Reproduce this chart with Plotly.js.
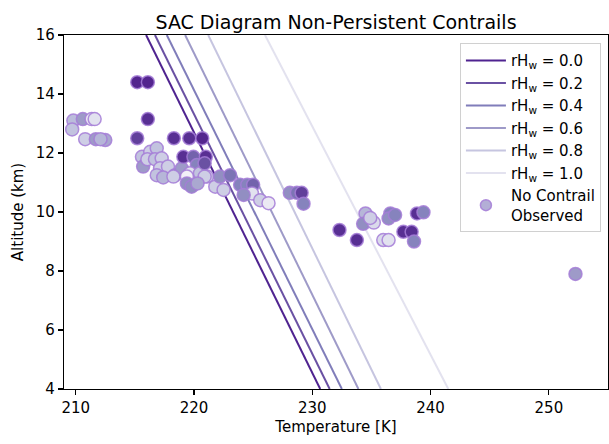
<!DOCTYPE html>
<html><head><meta charset="utf-8">
<script src="https://cdn.plot.ly/plotly-3.0.1.min.js"></script>
<style>html,body{margin:0;padding:0;background:#fff}#chart{width:609px;height:444px}</style>
</head><body><div id="chart"></div><script>
// SAC threshold lines: relative humidity levels and threshold temperatures (K) at 16 km and 4 km
const rhLevels = [0.0, 0.2, 0.4, 0.6, 0.8, 1.0];
const lineAlt = [16, 4];
const lineTempTop = [215.95, 216.7, 217.7, 219.25, 221.2, 226.0];
const lineTempBottom = [230.67, 231.47, 232.5, 233.9, 235.8, 241.5];

// Observations without contrails
const obsTemp = [215.2, 216.1, 216.1, 215.2, 218.3, 219.6, 220.7,
  209.8, 210.6, 211.35, 211.6, 209.7, 210.8, 211.7, 212.5, 212.1,
  215.6, 215.7, 216.3, 216.85, 216.06, 216.7, 217.27, 217.13, 217.8, 216.85, 217.4, 218.4, 218.97,
  219.1, 219.95, 221.0, 220.24, 219.67, 218.26, 219.4, 219.4, 221.1, 221.8, 222.2, 223.06, 222.5,
  223.9, 224.5, 225.0, 224.9, 224.2, 225.6, 226.3, 219.8, 220.5, 220.9, 220.3, 220.9,
  228.1, 228.7, 229.1, 229.26, 232.3, 233.77, 234.5, 234.3, 235.2, 234.9, 236.0, 236.45,
  236.6, 236.45, 237.0, 237.7, 238.4, 238.6, 238.85, 239.4, 252.25];
const obsAlt = [14.4, 14.4, 13.15, 12.5, 12.5, 12.5, 12.5,
  13.1, 13.15, 13.15, 13.15, 12.8, 12.47, 12.47, 12.44, 12.47,
  11.87, 11.54, 12.04, 12.16, 11.79, 11.79, 11.82, 11.48, 11.54, 11.25, 11.17, 11.25, 11.48,
  11.87, 11.87, 11.87, 11.59, 11.31, 11.2, 11.2, 10.97, 11.2, 10.86, 11.2, 11.25, 10.75,
  10.92, 10.92, 10.92, 10.63, 10.58, 10.4, 10.3, 10.86, 11.31, 11.2, 10.97, 11.65,
  10.65, 10.65, 10.65, 10.28, 9.39, 9.05, 9.95, 9.6, 9.64, 9.8, 9.05, 9.05,
  9.95, 9.78, 9.9, 9.33, 9.33, 9.0, 9.95, 9.99, 7.9];
const obsRh = [0.88, 0.88, 0.85, 0.8, 0.85, 0.85, 0.88,
  0.38, 0.5, 0.15, 0.2, 0.35, 0.3, 0.5, 0.45, 0.4,
  0.35, 0.5, 0.3, 0.35, 0.3, 0.35, 0.3, 0.3, 0.3, 0.35, 0.4, 0.5, 0.5,
  0.85, 0.7, 0.85, 0.6, 0.2, 0.3, 0.1, 0.55, 0.3, 0.3, 0.55, 0.65, 0.3,
  0.6, 0.6, 0.7, 0.2, 0.55, 0.3, 0.15, 0.55, 0.35, 0.3, 0.45, 0.75,
  0.55, 0.65, 0.8, 0.6, 0.85, 0.85, 0.4, 0.55, 0.25, 0.3, 0.25, 0.2,
  0.6, 0.55, 0.6, 0.85, 0.85, 0.6, 0.85, 0.6, 0.5];

const xTicks = [210, 220, 230, 240, 250];
const yTicks = [4, 6, 8, 10, 12, 14, 16];

const lineColors = ['#4f2390', '#6a51a3', '#807dba', '#9e9ac8', '#c6c5e0', '#e3e2ef'];
const purples = [[0, '#fcfbfd'], [0.125, '#efedf5'], [0.25, '#dadaeb'], [0.375, '#bcbddc'],
  [0.5, '#9e9ac8'], [0.625, '#807dba'], [0.75, '#6a51a3'], [0.875, '#54278f'], [1, '#3f007d']];

const traces = [];
rhLevels.forEach((rh, i) => {
  traces.push({
    type: 'scatter', mode: 'lines',
    x: [lineTempTop[i], lineTempBottom[i]], y: lineAlt,
    line: {color: lineColors[i], width: 2},
    name: 'rH<sub>w</sub> = ' + rh.toFixed(1),
    hoverinfo: 'skip'
  });
});
traces.push({
  type: 'scatter', mode: 'markers', x: obsTemp, y: obsAlt, showlegend: false,
  marker: {size: 13, color: obsRh, colorscale: purples, cmin: 0, cmax: 1, showscale: false,
    line: {color: 'rgba(165,125,215,0.85)', width: 1.5}}
});
traces.push({
  type: 'scatter', mode: 'markers', x: [null], y: [null], name: 'No Contrail<br>Observed',
  marker: {size: 11, color: '#b3aed6', line: {color: 'rgba(165,125,215,0.85)', width: 1.5}}
});

const fam = 'DejaVu Sans, sans-serif';
const font = {family: fam, size: 15, color: '#000'};
const axisCommon = {showgrid: false, zeroline: false, showline: true, linecolor: '#000', linewidth: 1.1,
  mirror: true, ticks: 'outside', ticklen: 5, tickwidth: 1.1, tickcolor: '#000',
  tickfont: {family: fam, size: 15, color: '#000'}};

const layout = {
  width: 609, height: 444,
  margin: {l: 64, r: 1, t: 35, b: 55},
  paper_bgcolor: '#fff', plot_bgcolor: '#fff',
  font: font,
  title: {text: 'SAC Diagram Non-Persistent Contrails', font: {family: fam, size: 19, color: '#000'},
    xref: 'paper', x: 0.5, xanchor: 'center', yref: 'paper', y: 1, yanchor: 'bottom', pad: {b: 6}},
  xaxis: Object.assign({}, axisCommon, {range: [209.01, 255.0], tickvals: xTicks,
    title: {text: 'Temperature [K]', font: font, standoff: 5}}),
  yaxis: Object.assign({}, axisCommon, {range: [4, 16], tickvals: yTicks,
    title: {text: 'Altitude (km)', font: font, standoff: 8}}),
  legend: {x: 0.987, xanchor: 'right', y: 0.977, yanchor: 'top', bgcolor: 'rgba(255,255,255,0.9)',
    bordercolor: '#d0d0d0', borderwidth: 1, font: font, tracegroupgap: 0, itemwidth: 40}
};

Plotly.newPlot('chart', traces, layout, {displayModeBar: false, staticPlot: true});
</script></body></html>
